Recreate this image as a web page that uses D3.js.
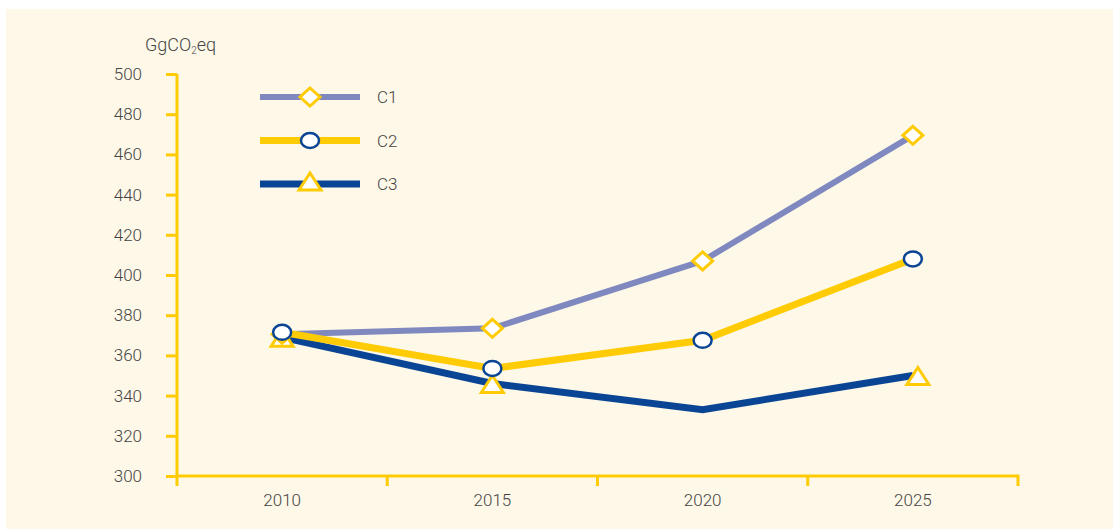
<!DOCTYPE html>
<html>
<head>
<meta charset="utf-8">
<script src="https://cdn.jsdelivr.net/npm/d3@7"></script>
<style>
  body { margin: 0; background: #fff; }
  text { font-family: Roboto, "Liberation Sans", sans-serif; font-weight: 300; fill: #454545; }
</style>
</head>
<body>
<script>
// chart values
var years = ['2010', '2015', '2020', '2025']
var yTicks = [300, 320, 340, 360, 380, 400, 420, 440, 460, 480, 500]
var c1 = [370.5, 373.5, 407, 469.5]
var c2 = [371.5, 353.5, 367.5, 408]
var c3 = [369, 346, 333, 350]
var c3Marks = [true, true, false, true]
var seriesNames = ['C1', 'C2', 'C3']

var width = 1113, height = 529
var margin = {left: 177, right: 95, top: 74, bottom: 53}
var yellow = '#ffcb05', navy = '#0a4595', lav = '#7f89c0'

var svg = d3.select('body').append('svg').attr('width', width).attr('height', height)

svg.append('rect').attr('x', 6).attr('y', 9).attr('width', width - 6).attr('height', height - 9)
	.attr('fill', '#fdf8e7')

var x = d3.scaleBand().domain(years).range([margin.left, width - margin.right])
var y = d3.scaleLinear().domain([300, 500]).range([height - margin.bottom, margin.top])
var cx = (d, i) => x(years[i]) + x.bandwidth() / 2

// axes
var yAxis = svg.append('g').attr('transform', 'translate(' + margin.left + ',0)')
	.call(d3.axisLeft(y).tickValues(yTicks).tickSize(11).tickPadding(24))
yAxis.select('.domain').attr('stroke', yellow).attr('stroke-width', 3)
	.attr('d', 'M0,' + y(500) + 'V' + y(300))
yAxis.selectAll('.tick line').attr('stroke', yellow).attr('stroke-width', 3)
yAxis.selectAll('.tick text').attr('font-size', 17).attr('fill', '#454545')
	.style('font-family', 'Roboto, sans-serif').style('font-weight', 300)

var xAxis = svg.append('g').attr('transform', 'translate(0,' + y(300) + ')')
	.call(d3.axisBottom(x).tickSize(0).tickPadding(18))
xAxis.select('.domain').attr('stroke', yellow).attr('stroke-width', 3)
	.attr('d', 'M' + margin.left + ',10V0H' + (width - margin.right) + 'V10')
xAxis.selectAll('.tick text').attr('font-size', 17).attr('fill', '#454545')
	.style('font-family', 'Roboto, sans-serif').style('font-weight', 300)
xAxis.selectAll('.sep').data(years.slice(1)).enter().append('line')
	.attr('x1', d => x(d)).attr('x2', d => x(d)).attr('y1', 0).attr('y2', 10)
	.attr('stroke', yellow).attr('stroke-width', 3)

// unit label
var unit = svg.append('text').attr('x', 145).attr('y', 51).attr('font-size', 18)
unit.append('tspan').text('GgCO')
unit.append('tspan').text('2').attr('font-size', 10).attr('dy', 3)
unit.append('tspan').text('eq').attr('dy', -3)

var line = d3.line().x(cx).y(d => y(d))

// marker helpers
function diamond(g, px, py) {
	g.append('path').attr('d', 'M' + px + ',' + (py - 9) + 'L' + (px + 10) + ',' + py + 'L' + px + ',' + (py + 9) + 'L' + (px - 10) + ',' + py + 'Z')
		.attr('fill', '#fff').attr('stroke', yellow).attr('stroke-width', 3)
}
function circle(g, px, py) {
	g.append('ellipse').attr('cx', px).attr('cy', py).attr('rx', 9).attr('ry', 7.5)
		.attr('fill', '#fff').attr('stroke', navy).attr('stroke-width', 2.5)
}
function triangle(g, px, py) {
	g.append('path').attr('d', 'M' + px + ',' + (py - 10) + 'L' + (px + 11) + ',' + (py + 7) + 'L' + (px - 11) + ',' + (py + 7) + 'Z')
		.attr('fill', '#fff').attr('stroke', yellow).attr('stroke-width', 3)
}

var plot = svg.append('g')
plot.append('path').attr('d', line(c3)).attr('fill', 'none').attr('stroke', navy).attr('stroke-width', 7)
plot.append('path').attr('d', line(c1)).attr('fill', 'none').attr('stroke', lav).attr('stroke-width', 6)
plot.append('path').attr('d', line(c2)).attr('fill', 'none').attr('stroke', yellow).attr('stroke-width', 7)

c3.forEach((d, i) => { if (c3Marks[i]) triangle(plot, cx(d, i) + (i === 3 ? 5 : 0), y(d) + 2) })
c1.forEach((d, i) => diamond(plot, cx(d, i), y(d)))
c2.forEach((d, i) => circle(plot, cx(d, i), y(d)))

// legend
var legColors = [lav, yellow, navy]
var legWidths = [6, 7, 7]
var legMarks = [diamond, circle, triangle]
seriesNames.forEach((name, i) => {
	var ly = 97 + i * 43.5
	var lg = svg.append('g')
	lg.append('line').attr('x1', 260).attr('x2', 360).attr('y1', ly).attr('y2', ly)
		.attr('stroke', legColors[i]).attr('stroke-width', legWidths[i])
	legMarks[i](lg, 310, i === 2 ? ly - 1 : ly)
	lg.append('text').attr('x', 377).attr('y', ly + 6).attr('font-size', 17).text(name)
})
</script>
</body>
</html>
